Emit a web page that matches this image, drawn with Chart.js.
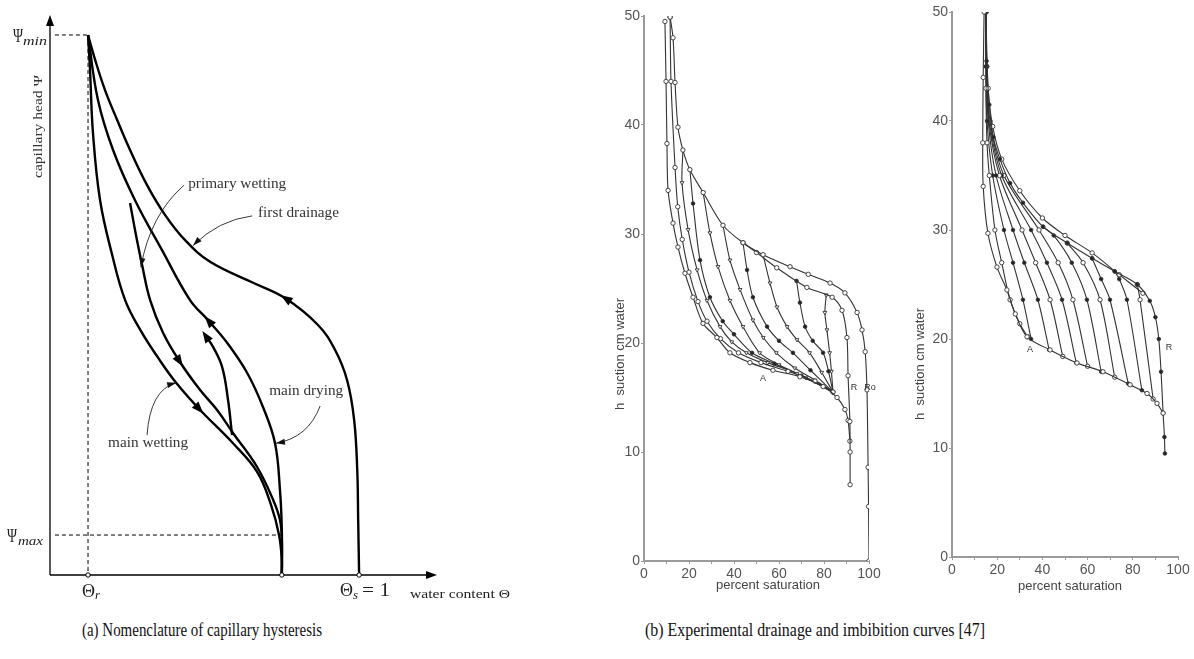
<!DOCTYPE html>
<html>
<head>
<meta charset="utf-8">
<script src="https://cdn.jsdelivr.net/npm/chart.js@4.4.0/dist/chart.umd.min.js"></script>
<style>
    body { margin: 0; background: #fff; width: 1194px; height: 659px; overflow: hidden; position: relative; }
    .box { position: absolute; top: 0; }
    .cap { position: absolute; top: 620px; font-family: 'Liberation Serif', serif; font-size: 18px; color: #111; white-space: nowrap; transform-origin: left center; }
</style>
</head>
<body>
<div class="box" style="left:0;"><canvas id="hystChart" width="540" height="600"></canvas></div>
<div class="box" style="left:606px;"><canvas id="drainChart" width="290" height="600"></canvas></div>
<div class="box" style="left:914px;"><canvas id="imbibChart" width="280" height="600"></canvas></div>
<div class="cap" id="capA" style="left:82px;" data-w="240">(a) Nomenclature of capillary hysteresis</div>
<div class="cap" id="capB" style="left:645px;" data-w="340">(b) Experimental drainage and imbibition curves [47]</div>

<script>
// ---------- (a) schematic: water content (Θs = 100) vs capillary head (Ψmin = 100)
const thetaR = 12.3, thetaMain = 75, thetaS = 100;
const psiMin = 100, psiMax = 7.4;

const firstDrainage = [[100,0],[99.7,10.2],[99.4,19.4],[98.4,28.7],[96.1,36.1],[92.2,41.7],[86.7,46.3],[76.0,51.3],[65,54.3],[51.8,58.0],[43.7,62.0],[37.2,66.7],[31.4,72.2],[25.9,78.7],[21.7,84.3],[17.8,89.8],[14.6,95.4],[12.3,100]];
const mainDrying = [[75,0],[75,8.3],[74.4,15.7],[72.8,24.4],[68.9,31.1],[63.8,37.4],[57.3,43.0],[51.1,47.2],[45.3,50.9],[36.2,60.2],[27.5,69.4],[20.4,78.7],[15.5,88.0],[12.3,100]];
const primaryWetting = [[25.9,68.9],[27.8,63.0],[29.8,57.4],[32.4,50.9],[36.6,44.8],[42.1,39.4],[48.5,34.3],[54.0,30.6],[59.2,26.3],[67.0,20.0],[72.2,13.9],[74.4,10.2],[75,6.5],[75,0]];
const mainWetting = [[12.3,100],[12.9,94.1],[13.9,81.9],[16.2,69.4],[20.1,59.3],[24.3,50.9],[29.4,45.2],[35.0,40.2],[40.8,35.6],[48.5,30.6],[59.2,24.4],[67.0,19.1],[71.5,13.0],[74.1,7.4],[75,2.8],[75,0]];
const scanning = [[58.9,25.9],[57.6,32.4],[55.7,38.5],[52.8,42.2],[50.2,44.4]];

// arrowheads on curves: [dataset, point index]
const curveArrows = [[0, 7], [1, 7], [2, 5], [3, 9], [4, 4]];

// curve names with leader arrows: text, text position, leader start / control / tip
const curveLabels = [
    { text: 'primary wetting', at: [44.7, 72.4], w: 98, lead: [[43.4, 72.2], [32.4, 66.7], [29.4, 57.0]] },
    { text: 'first drainage', at: [67.3, 67.0], w: 81, lead: [[65.4, 66.5], [54.4, 65.7], [46.3, 61.0]] },
    { text: 'main drying', at: [70.9, 34.1], w: 74, lead: [[87.4, 31.3], [83.5, 25.4], [73.1, 24.4]] },
    { text: 'main wetting', at: [18.8, 24.4], w: 80, lead: [[31.4, 25.9], [32.4, 34.3], [40.8, 35.6]] }
];

// ---------- (b) experimental curves, percent saturation vs suction (cm water)
const satTicks = [0, 20, 40, 60, 80, 100];
const suctionTicks = [0, 10, 20, 30, 40, 50];

const drainRo = [[100,0],[99.8,5],[99.6,8.6],[99.1,15.7],[98.3,19.2],[96.9,21.2],[94.7,22.8],[89.3,24.6],[82.7,25.5],[73,26.3],[64.9,27.0],[52.9,28.1],[44,29.2],[35.1,30.8],[26.3,33.8],[20.4,35.9],[17.3,37.7],[15.1,39.8],[13.8,43.9],[12.9,48],[11.6,49.9]];
const drainR = [[91.6,7],[91.6,10],[91.5,12.8],[90.7,17],[90.2,20.5],[88,23],[83.6,24.2],[72.4,25.1],[59,26.9],[50,28.3],[44,29.2]];
const drainA = [[9.3,49.5],[9.8,44],[10.2,38.3],[10.7,34],[12.9,31],[15.1,28.8],[18.2,26.4],[21.8,24.2],[26.2,21.8],[32.4,20.5],[38.2,19.1],[47.1,18.2],[57.3,17.5],[69.3,16.9],[79.6,16],[85.8,15],[89.3,13.9],[90.7,12.9],[91.5,11]];
const drainS0 = [[11.6,49.9],[12,44],[13.8,36.1],[15,32.5],[17,29.5],[20,26.5],[24,23.8],[28,22],[34,20.4],[42,19.1],[52,18.2],[64,17.4],[76,16.5],[84,15.5]];
const drainS1 = [[17.3,37.7],[16.9,34.7],[19.6,30.4],[23.6,26.7],[28,23.9],[33.8,21.5],[39,20.1],[45.5,19.1],[55,18.2],[68,17.2],[84,15.5]];
const drainS2 = [[20.4,35.9],[21.8,32.8],[24.9,27.6],[29.3,24.2],[35,22],[40,20.8],[48,19.1],[58,18.1],[70,17.0],[84,15.5]];
const drainS3 = [[26.3,33.8],[29.3,30.1],[32.9,27],[38.2,23.9],[44,21.5],[51.4,19.1],[60,18.0],[72,16.8],[84,15.5]];
const drainS4 = [[35.1,30.8],[38.2,27.6],[42.7,24.9],[48.4,22.1],[53,20.5],[58.8,19.1],[67,17.7],[76,16.6],[84,15.5]];
const drainS5 = [[44,29.2],[45.8,26.7],[48.4,24.2],[54.7,21.5],[60,20.2],[66.2,19.1],[74,17.5],[84,15.5]];
const drainS6 = [[52.9,28.1],[56,25.5],[59.1,23.3],[63.6,21.5],[68,20.3],[73.6,19.1],[79,17.3],[84,15.5]];
const drainS7 = [[67.8,25.7],[69.3,23.7],[71.6,21.5],[75,20.2],[79.6,19.1],[82,17.4],[84,15.5]];
const drainS8 = [[81,24.4],[80.4,22.8],[81.3,21.2],[82.5,19.1],[83.3,17.4],[84,15.5]];

const imbibW = [[14.2,50],[13.8,44],[13.6,38],[13.8,34],[15.9,29.7],[19.9,26.6],[24.3,24.5],[28,22.3],[33.2,20.2],[43.4,19.0],[55.3,17.8],[66.8,17.0],[78.8,15.8],[86.3,15.0],[90.7,14.1],[93.4,13.2]];
const imbibR = [[94.2,9.5],[94,11],[93.4,13.2],[92.5,17],[91.5,20],[90,22],[87.5,23.5],[82,25],[72,26.2],[62,27.4],[51,28.8],[40.3,30.3],[31.4,32.5],[25.7,34.3],[21.2,36.5],[18.3,38.5],[16.5,41.5],[15.3,45.5],[15,50]];
const imbibTop = [[15,50],[16,43],[18,39.5],[22,36.5],[30,33.6],[40,31.1],[50,29.5],[62,27.9],[74,25.9],[84.5,24.2]];
const imbibC = [[15,50],[15,43],[15.5,38],[16.5,35],[19,30],[22,27],[25.7,23.6],[30,21.4],[33.5,20.2]];
const imbibS1 = [[35,20.0],[31.4,23.6],[27,27],[23,30],[18,35],[15.5,40],[15,45],[15,50]];
const imbibS2 = [[43,19.0],[38,23.6],[32,27],[27,30],[19.5,35],[16,40],[15.2,45],[15,50]];
const imbibS3 = [[49,18.4],[43.4,23.6],[37,27],[31,30],[21,35],[16.3,40],[15.3,45],[15,50]];
const imbibS4 = [[55,17.8],[48.7,23.6],[42,27],[35,30],[22,35],[16.6,40],[15.4,45],[15,50]];
const imbibS5 = [[60,17.5],[53.5,23.6],[47,27],[38.5,30],[23,35],[16.8,40],[15.4,45],[15,50]];
const imbibS6 = [[66,17.0],[59.7,23.6],[53,27],[45,29.5],[40.3,30.3]];
const imbibS7 = [[72,16.5],[65.5,23.6],[58,27],[51,28.8]];
const imbibS8 = [[78,15.9],[69.9,23.6],[66,25.5],[62,27.4]];
const imbibS9 = [[84,15.3],[77.4,23.6],[74,25.5],[72,26.2]];
const imbibS10 = [[89,14.5],[83.2,23.6],[82,25]];

const drainTags = [{ t: 'A', at: [52.9, 16.7] }, { t: 'R', at: [93.3, 15.9] }, { t: 'Ro', at: [100.5, 15.9] }];
const imbibTags = [{ t: 'A', at: [34.5, 19.0] }, { t: 'R', at: [96, 19.2] }];

const xy = arr => arr.map(p => ({ x: p[0], y: p[1] }));

function arrowHead(ctx, x, y, ang, len, half) {
    ctx.beginPath();
    ctx.moveTo(x, y);
    ctx.lineTo(x - len * Math.cos(ang) + half * Math.sin(ang), y - len * Math.sin(ang) - half * Math.cos(ang));
    ctx.lineTo(x - len * Math.cos(ang) - half * Math.sin(ang), y - len * Math.sin(ang) + half * Math.cos(ang));
    ctx.closePath();
    ctx.fill();
}

// draw text squeezed / stretched to a given width
function fitText(ctx, str, x, y, font, w) {
    ctx.font = font;
    const m = ctx.measureText(str).width;
    ctx.save();
    ctx.translate(x, y);
    ctx.scale(w / m, 1);
    ctx.fillText(str, 0, 0);
    ctx.restore();
}

const hystDecor = {
    id: 'hystDecor',
    afterDatasetsDraw(chart) {
        const { ctx, scales: { x, y } } = chart;
        const px = v => x.getPixelForValue(v), py = v => y.getPixelForValue(v);
        ctx.save();
        ctx.fillStyle = '#000';
        ctx.strokeStyle = '#000';

        // axes with arrows
        ctx.lineWidth = 1.3;
        ctx.beginPath();
        ctx.moveTo(px(0), py(0)); ctx.lineTo(px(0), py(y.max) + 8);
        ctx.moveTo(px(0), py(0)); ctx.lineTo(px(x.max) - 8, py(0));
        ctx.stroke();
        arrowHead(ctx, px(0), py(y.max), -Math.PI / 2, 11, 4);
        arrowHead(ctx, px(x.max), py(0), 0, 11, 4);

        // dashed guide lines
        ctx.lineWidth = 1;
        ctx.setLineDash([4, 3]);
        ctx.beginPath();
        ctx.moveTo(px(1.6), py(psiMin)); ctx.lineTo(px(thetaR), py(psiMin));
        ctx.moveTo(px(thetaR), py(psiMin)); ctx.lineTo(px(thetaR), py(0));
        ctx.moveTo(px(1.6), py(psiMax)); ctx.lineTo(px(thetaMain), py(psiMax));
        ctx.stroke();
        ctx.setLineDash([]);

        // open circles on the theta axis
        ctx.fillStyle = '#fff';
        [thetaR, thetaMain, thetaS].forEach(t => {
            ctx.beginPath(); ctx.arc(px(t), py(0), 2.2, 0, Math.PI * 2); ctx.fill(); ctx.stroke();
        });
        ctx.fillStyle = '#000';

        // arrowheads along the curves
        curveArrows.forEach(([d, i]) => {
            const pts = chart.getDatasetMeta(d).data;
            const el = pts[i];
            let dx = (el.cp2x ?? el.x) - (el.cp1x ?? el.x), dy = (el.cp2y ?? el.y) - (el.cp1y ?? el.y);
            if (Math.abs(dx) + Math.abs(dy) < 0.01) { dx = el.x - pts[i - 1].x; dy = el.y - pts[i - 1].y; }
            const a = Math.atan2(dy, dx);
            arrowHead(ctx, el.x + 5 * Math.cos(a), el.y + 5 * Math.sin(a), a, 12, 4.5);
        });

        // curve names and leader arrows
        ctx.fillStyle = '#333';
        ctx.textBaseline = 'middle';
        ctx.textAlign = 'left';
        curveLabels.forEach(l => {
            fitText(ctx, l.text, px(l.at[0]), py(l.at[1]), '14px "Liberation Serif"', l.w);
            const [s, c, t] = l.lead.map(p => [px(p[0]), py(p[1])]);
            ctx.strokeStyle = '#222';
            ctx.lineWidth = 0.9;
            ctx.beginPath(); ctx.moveTo(s[0], s[1]); ctx.quadraticCurveTo(c[0], c[1], t[0], t[1]); ctx.stroke();
            ctx.fillStyle = '#111';
            arrowHead(ctx, t[0], t[1], Math.atan2(t[1] - c[1], t[0] - c[0]), 9, 3);
            ctx.fillStyle = '#333';
        });

        // axis texts
        ctx.fillStyle = '#222';
        ctx.textBaseline = 'alphabetic';
        fitText(ctx, 'Ψ', 13, py(psiMin) + 7, '18px "Liberation Serif"', 10);
        fitText(ctx, 'min', 23, py(psiMin) + 10, 'italic 13px "Liberation Serif"', 24);
        fitText(ctx, 'Ψ', 7, py(psiMax) + 7, '18px "Liberation Serif"', 10);
        fitText(ctx, 'max', 18, py(psiMax) + 10, 'italic 13px "Liberation Serif"', 25);
        fitText(ctx, 'Θ', px(thetaR) - 6, py(0) + 22, '18px "Liberation Serif"', 13);
        fitText(ctx, 'r', px(thetaR) + 7, py(0) + 24, 'italic 12px "Liberation Serif"', 5);
        fitText(ctx, 'Θ', px(thetaS) - 19, py(0) + 21, '18px "Liberation Serif"', 13);
        fitText(ctx, 's', px(thetaS) - 6, py(0) + 24, 'italic 12px "Liberation Serif"', 5);
        fitText(ctx, '= 1', px(thetaS) + 3, py(0) + 21, '18px "Liberation Serif"', 28);
        fitText(ctx, 'water content Θ', px(x.max) - 27, py(0) + 23, '13px "Liberation Serif"', 100);
        ctx.fillStyle = '#333';
        ctx.save();
        ctx.translate(42, 178);
        ctx.rotate(-Math.PI / 2);
        fitText(ctx, 'capillary head Ψ', 0, 0, '13px "Liberation Serif"', 103);
        ctx.restore();
        ctx.restore();
    }
};

const curve = (data, w) => ({ data: xy(data), showLine: true, borderColor: '#000', borderWidth: w, pointRadius: 0, tension: 0.4, fill: false });

new Chart(document.getElementById('hystChart'), {
    type: 'scatter',
    data: {
        datasets: [
            curve(firstDrainage, 2.4),
            curve(mainDrying, 2.4),
            curve(primaryWetting, 2.4),
            curve(mainWetting, 2.4),
            curve(scanning, 2.4)
        ]
    },
    options: {
        responsive: false,
        animation: false,
        layout: { padding: { left: 50, right: 103, top: 15, bottom: 25 } },
        scales: {
            x: { type: 'linear', display: false, min: 0, max: 125.2 },
            y: { type: 'linear', display: false, min: 0, max: 103.7 }
        },
        plugins: { legend: { display: false }, tooltip: { enabled: false } }
    },
    plugins: [hystDecor]
});

// ---------- (b) charts
function series(data, style) {
    const open = style !== 'dot';
    return {
        data: xy(data), showLine: true, borderColor: '#333', borderWidth: 1.1, tension: 0.3,
        pointStyle: style === 'tri' ? 'triangle' : 'circle',
        rotation: style === 'tri' ? 180 : 0,
        pointRadius: style === 'dot' ? 1.8 : 2.2,
        pointBackgroundColor: open ? '#fff' : '#222',
        pointBorderColor: '#333', pointBorderWidth: 0.9
    };
}

function satChart(id, datasets, tags, o) {
    const tagPlugin = {
        id: 'tags_' + id,
        afterDatasetsDraw(chart) {
            const { ctx, chartArea, scales: { x, y } } = chart;
            ctx.save();
            ctx.fillStyle = '#333';
            ctx.textAlign = 'center';
            ctx.textBaseline = 'middle';
            ctx.font = '9px "Liberation Sans"';
            tags.forEach(t => ctx.fillText(t.t, x.getPixelForValue(t.at[0]), y.getPixelForValue(t.at[1])));
            ctx.fillStyle = '#444';
            ctx.font = '13px "Liberation Sans"';
            ctx.fillText('percent saturation', chartArea.left + o.xtx, chartArea.bottom + o.xty);
            ctx.translate(chartArea.left - o.ytx, o.yty);
            ctx.rotate(-Math.PI / 2);
            ctx.fillText('h  suction cm water', 0, 0);
            ctx.restore();
        }
    };
    const axisFont = { family: 'Liberation Sans', size: 14 };
    return new Chart(document.getElementById(id), {
        type: 'scatter',
        data: { datasets },
        options: {
            responsive: false,
            animation: false,
            layout: { padding: { left: 0, right: o.right, top: o.top, bottom: 0 } },
            scales: {
                x: {
                    type: 'linear', min: 0, max: 100,
                    border: { color: '#9a9a9a', width: 2 },
                    grid: { drawOnChartArea: false, color: '#9a9a9a', tickLength: 3 },
                    ticks: { stepSize: 10, autoSkip: false, maxRotation: 0, padding: 2, color: '#555', font: axisFont,
                             callback: v => satTicks.includes(v) ? v : '' },
                    afterFit: s => { s.height = o.xh; }
                },
                y: {
                    type: 'linear', min: 0, max: 50,
                    border: { color: '#9a9a9a', width: 2 },
                    grid: { drawOnChartArea: false, color: '#9a9a9a', tickLength: 3 },
                    ticks: { stepSize: 10, padding: 1, color: '#555', font: axisFont,
                             callback: v => suctionTicks.includes(v) ? v : '' },
                    afterFit: s => { s.width = 38; }
                }
            },
            plugins: { legend: { display: false }, tooltip: { enabled: false } }
        },
        plugins: [tagPlugin]
    });
}

satChart('drainChart', [
    series(drainRo, 'open'),
    series(drainR, 'open'),
    series(drainA, 'open'),
    series(drainS0, 'open'),
    series(drainS1, 'tri'),
    series(drainS2, 'dot'),
    series(drainS3, 'tri'),
    series(drainS4, 'tri'),
    series(drainS5, 'dot'),
    series(drainS6, 'tri'),
    series(drainS7, 'dot'),
    series(drainS8, 'tri')
], drainTags, { right: 27, top: 16, xh: 39, xtx: 124, xty: 24, ytx: 24, yty: 354 });

satChart('imbibChart', [
    series(imbibW, 'open'),
    series(imbibR, 'dot'),
    series(imbibTop, 'open'),
    series(imbibC, 'open'),
    series(imbibS1, 'dot'),
    series(imbibS2, 'dot'),
    series(imbibS3, 'open'),
    series(imbibS4, 'dot'),
    series(imbibS5, 'open'),
    series(imbibS6, 'dot'),
    series(imbibS7, 'open'),
    series(imbibS8, 'dot'),
    series(imbibS9, 'dot'),
    series(imbibS10, 'open')
], imbibTags, { right: 16, top: 12, xh: 43, xtx: 118, xty: 29, ytx: 32, yty: 364 });

// captions scaled to the widths seen in the figure
document.querySelectorAll('.cap').forEach(el => {
    const w = el.getBoundingClientRect().width;
    el.style.transform = 'scaleX(' + (el.dataset.w / w) + ')';
});
</script>
</body>
</html>
